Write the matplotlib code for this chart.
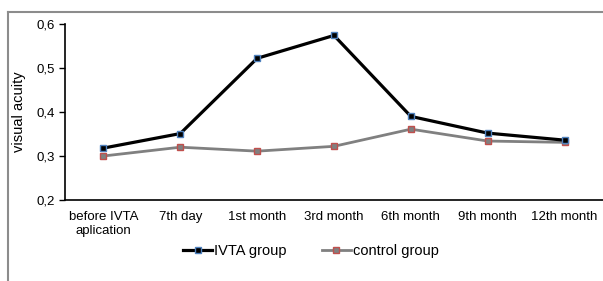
import matplotlib.pyplot as plt
from matplotlib.lines import Line2D
from matplotlib.ticker import FuncFormatter

categories = ['before IVTA\naplication', '7th day', '1st month', '3rd month',
              '6th month', '9th month', '12th month']
ivta = [0.318, 0.351, 0.522, 0.574, 0.390, 0.352, 0.336]
control = [0.300, 0.320, 0.311, 0.322, 0.361, 0.334, 0.331]

plt.rcParams['font.family'] = ['Liberation Sans', 'DejaVu Sans']
plt.rcParams['font.size'] = 9

fig = plt.figure(figsize=(6.03, 2.81), dpi=100)
ax = fig.add_axes([65 / 603, 1 - 200 / 281, 1 - 65 / 603, 176 / 281])

x = range(len(categories))
ax.plot(x, ivta, color='black', lw=2.3, marker='s', ms=4.5,
        mfc='black', mec='#4f81bd', mew=1.0, label='IVTA group', zorder=3)
ax.plot(x, control, color='#808080', lw=2.0, marker='s', ms=4.5,
        mfc='#808080', mec='#c0504d', mew=1.0, label='control group', zorder=2)

ax.set_xlim(-0.5, len(categories) - 0.5)
ax.set_ylim(0.2, 0.6)
ax.set_yticks([0.2, 0.3, 0.4, 0.5, 0.6])
ax.yaxis.set_major_formatter(FuncFormatter(lambda v, p: f'{v:.1f}'.replace('.', ',')))
ax.set_xticks(list(x))
ax.set_xticklabels(categories, fontsize=9.5, linespacing=1.25)
ax.tick_params(axis='x', length=0, pad=8)
ax.tick_params(axis='y', length=4, width=1, direction='out', pad=3, labelsize=9.5)
ax.spines['top'].set_visible(False)
ax.spines['right'].set_visible(False)
ax.spines['left'].set_linewidth(1.2)
ax.spines['bottom'].set_linewidth(1.2)
ax.set_ylabel('visual acuity', fontsize=10.5, labelpad=8)

handles, labels = ax.get_legend_handles_labels()
fig.legend(handles, labels, loc='center', bbox_to_anchor=(311 / 603, 1 - 251 / 281),
           ncol=2, frameon=False, fontsize=10.5, handlelength=2.0,
           handletextpad=0.15, columnspacing=2.4, borderpad=0)

# outer chart border (partly cut off in the original)
fig.add_artist(Line2D([8 / 603, 8 / 603], [0, 1 - 12 / 281], color='#8c8c8c', lw=1.5))
fig.add_artist(Line2D([8 / 603, 1], [1 - 12 / 281, 1 - 12 / 281], color='#8c8c8c', lw=1.5))

fig.savefig('out.png', dpi=100)
